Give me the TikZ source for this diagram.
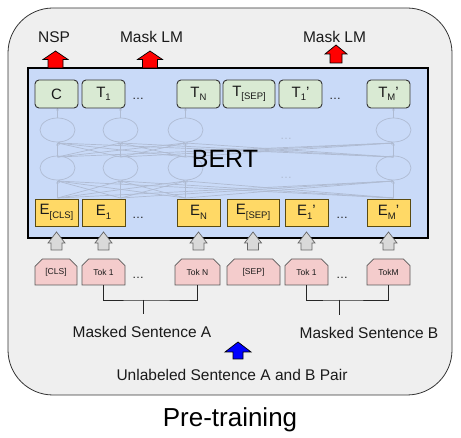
\documentclass[tikz,border=0pt]{standalone}
\usepackage{fontspec}
\setmainfont{Liberation Sans}
\usetikzlibrary{shapes.misc,arrows.meta}
\definecolor{outerbg}{HTML}{EFEFEF}
\definecolor{bertbg}{HTML}{C9DAF8}
\definecolor{tgreen}{HTML}{D9EAD3}
\definecolor{eyellow}{HTML}{FFD966}
\definecolor{eborder}{HTML}{5A4A10}
\definecolor{tokpink}{HTML}{F4CCCC}
\definecolor{arrgrey}{HTML}{D9D9D9}
\definecolor{txt}{HTML}{1A1A1A}
\definecolor{netc}{HTML}{AFBBD2}
\newcommand{\lsub}[1]{\raisebox{-0.45ex}{\fontsize{9.5}{9.5}\selectfont #1}}
\newcommand{\blockarr}[7]{\draw[#7] ({#1-#5},#2) -- ({#1-#5},#4) -- ({#1-#6},#4) -- (#1,#3) -- ({#1+#6},#4) -- ({#1+#5},#4) -- ({#1+#5},#2) -- cycle;}
\begin{document}
\begin{tikzpicture}[x=1pt,y=-1pt,
  lbl/.style={text=txt, font=\fontsize{15.5}{18}\selectfont, inner sep=0pt},
  tbox/.style={draw=black!80, line width=0.9pt, fill=tgreen, rounded corners=4pt, minimum height=28pt, inner sep=0pt, text=txt, font=\fontsize{15}{15}\selectfont},
  ebox/.style={draw=eborder, line width=0.9pt, fill=eyellow, minimum height=27pt, inner sep=0pt, text=txt, font=\fontsize{15}{15}\selectfont},
  tokbox/.style={chamfered rectangle, chamfered rectangle corners={north west,north east}, chamfered rectangle xsep=5pt, draw=black!65, line width=0.7pt, fill=tokpink, minimum height=26pt, inner sep=0pt, text=txt, font=\fontsize{8.5}{8.5}\selectfont},
  dots/.style={text=txt, font=\fontsize{12}{12}\selectfont, inner sep=0pt, anchor=base},
  net/.style={draw=netc, line width=0.7pt},
  netarr/.style={net, -{Stealth[length=2.5pt,width=2.5pt]}},
  redarr/.style={fill=red, draw=black, line width=0.7pt},
  greyarr/.style={fill=arrgrey, draw=black!60, line width=0.7pt},
  bluearr/.style={fill=blue, draw=black, line width=0.7pt},
  bracket/.style={draw=black!85, line width=0.8pt}
]
\useasboundingbox (0,0) rectangle (461,438);
% outer frame
\node[draw=black!80, line width=0.8pt, fill=outerbg, rounded corners=45pt, minimum width=444pt, minimum height=387pt, inner sep=0pt] (outer) at (230,201.5) {};
% BERT box
\node[draw=black, line width=2pt, fill=bertbg, minimum width=400pt, minimum height=170pt, inner sep=0pt] (bert) at (228,153) {};
% faint network
\foreach \a in {57.5,120.5,185.5,393.5}{
  \foreach \b in {57.5,120.5,185.5,393.5}{
    \draw[netarr] (\a,198) -- (\b,181);
    \draw[netarr] (\a,157) -- (\b,143);
  }
  \draw[net] (\a,130) ellipse [x radius=17.5pt, y radius=12pt];
  \draw[net] (\a,168) ellipse [x radius=17.5pt, y radius=12pt];
  \draw[netarr] (\a,118) -- (\a,108);
}
\node[dots, text=netc] (ndots1) at (286,140) {\dots};
\node[dots, text=netc] (ndots2) at (286,179) {\dots};
\node[text=black, font=\fontsize{25}{25}\selectfont, inner sep=0pt] (berttext) at (225,159) {BERT};
% output boxes
\node[tbox, minimum width=43pt] (tC) at (56.5,94) {C};
\node[tbox, minimum width=43pt] (t1) at (103.5,94) {T\lsub{1}};
\node[dots] (tdA) at (138,100) {\dots};
\node[tbox, minimum width=43pt] (tN) at (198.5,94) {T\lsub{N}};
\node[tbox, minimum width=52pt] (tSEP) at (249,94) {T\lsub{[SEP]}};
\node[tbox, minimum width=43pt] (t1p) at (300.5,94) {T\lsub{1}'};
\node[dots] (tdB) at (335,100) {\dots};
\node[tbox, minimum width=43pt] (tMp) at (388.5,94) {T\lsub{M}'};
% embedding boxes
\node[ebox, minimum width=43pt] (eCLS) at (56.5,212.5) {E\lsub{[CLS]}};
\node[ebox, minimum width=43pt] (e1) at (103.5,212.5) {E\lsub{1}};
\node[dots] (edA) at (138,219) {\dots};
\node[ebox, minimum width=43pt] (eN) at (198.5,212.5) {E\lsub{N}};
\node[ebox, minimum width=52pt] (eSEP) at (253,212.5) {E\lsub{[SEP]}};
\node[ebox, minimum width=43pt] (e1p) at (306.5,212.5) {E\lsub{1}'};
\node[dots] (edB) at (342,219) {\dots};
\node[ebox, minimum width=43pt] (eMp) at (388.5,212.5) {E\lsub{M}'};
% grey arrows
\foreach \x in {56.5,103.5,198.5,253,306.5,388.5}{
  \blockarr{\x}{250}{232}{243}{5.5}{8.5}{greyarr}
}
% token boxes
\node[tokbox, minimum width=42pt] (kCLS) at (56,272) {[CLS]};
\node[tokbox, minimum width=43pt] (kA1) at (103.5,272) {Tok 1};
\node[dots] (kdA) at (138,279) {\dots};
\node[tokbox, minimum width=45pt] (kAN) at (197.5,272) {Tok N};
\node[tokbox, minimum width=53pt] (kSEP) at (253.5,272) {[SEP]};
\node[tokbox, minimum width=43pt] (kB1) at (306.5,272) {Tok 1};
\node[dots] (kdB) at (342,279) {\dots};
\node[tokbox, minimum width=43pt] (kBM) at (388.5,272) {TokM};
% brackets
\coordinate (brA) at (143,300);
\coordinate (stemA) at (143,314);
\draw[bracket] (kA1.south) |- (brA) -| (kAN.south);
\draw[bracket] (brA) -- (stemA);
\coordinate (brB) at (339,300);
\coordinate (stemB) at (339,315);
\draw[bracket] (kB1.south) |- (brB) -| (kBM.south);
\draw[bracket] (brB) -- (stemB);
% labels
\node[lbl] (mA) at (142,332) {Masked Sentence A};
\node[lbl] (mB) at (369,333) {Masked Sentence B};
\node[lbl] (pair) at (232,375) {Unlabeled Sentence A and B Pair};
\node[text=black, font=\fontsize{26}{30}\selectfont, inner sep=0pt] (pre) at (230,420) {Pre-training};
\node[lbl] (nsp) at (54,37) {NSP};
\node[lbl] (mlm1) at (151.5,37) {Mask LM};
\node[lbl] (mlm2) at (334.5,37) {Mask LM};
% red arrows
\blockarr{55.5}{68}{51}{59.5}{7.5}{12.5}{redarr}
\blockarr{150}{68}{51}{59.5}{7.5}{12.5}{redarr}
\blockarr{336}{63}{45}{54}{6}{11}{redarr}
% blue arrow
\blockarr{238}{359}{342}{352}{5}{13}{bluearr}
\end{tikzpicture}
\end{document}
